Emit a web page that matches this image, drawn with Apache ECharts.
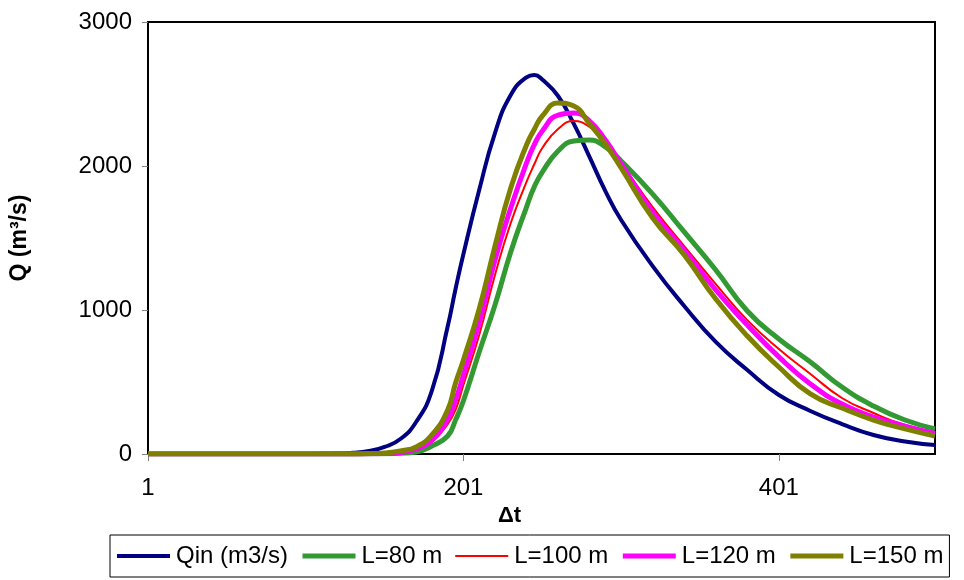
<!DOCTYPE html>
<html>
<head>
<meta charset="utf-8">
<script src="https://cdn.jsdelivr.net/npm/echarts@6/dist/echarts.min.js"></script>
<style>
  html, body { margin: 0; padding: 0; background: #fff; }
  #chart { width: 964px; height: 580px; }
</style>
</head>
<body>
<div id="chart"></div>
<script>
// time steps
var steps = [1, 101, 111, 121, 131, 141, 151, 161, 171, 181, 191, 196, 201, 211, 221, 231, 241, 246, 251, 261, 271, 281, 291, 301, 321, 341, 361, 381, 401, 421, 441, 461, 481, 500];
var qin  = [0, 0, 1, 3, 8, 21, 49, 104, 222, 440, 885, 1146, 1389, 1833, 2229, 2493, 2616, 2632, 2600, 2486, 2292, 2062, 1826, 1625, 1305, 1028, 778, 583, 410, 299, 208, 132, 87, 62];
var l80  = [0, 0, 0, 0, 0, 1, 2, 5, 14, 56, 125, 236, 370, 708, 1035, 1403, 1715, 1858, 1958, 2104, 2173, 2180, 2132, 2035, 1805, 1542, 1278, 993, 799, 639, 465, 333, 236, 174];
var l100 = [0, 0, 0, 0, 0, 1, 3, 7, 28, 83, 208, 306, 479, 826, 1243, 1604, 1889, 2014, 2125, 2257, 2312, 2271, 2167, 2021, 1715, 1444, 1180, 930, 729, 556, 389, 285, 201, 150];
var l120 = [0, 0, 0, 0, 0, 1, 4, 10, 35, 97, 243, 375, 549, 910, 1347, 1708, 2021, 2150, 2243, 2354, 2368, 2312, 2180, 2014, 1680, 1417, 1139, 896, 674, 486, 347, 257, 194, 142];
var l150 = [0, 0, 0, 0, 0, 2, 7, 21, 49, 132, 306, 493, 653, 1007, 1444, 1847, 2146, 2255, 2347, 2437, 2416, 2292, 2153, 1986, 1639, 1382, 1076, 819, 604, 417, 319, 236, 174, 125];
var xTicks = [1, 201, 401];

var names  = ['Qin (m3/s)', 'L=80 m', 'L=100 m', 'L=120 m', 'L=150 m'];
var colors = ['#000080', '#339933', '#FF0000', '#FF00FF', '#808000'];
var widths = [4, 5, 2, 5, 5];

function pairs(vals) {
    var out = [];
    for (var i = 0; i < steps.length; i++) {
        out.push([steps[i], vals[i]]);
    }
    return out;
}

var allVals = [qin, l80, l100, l120, l150];
var series = [];
var legendData = [];
for (var k = 0; k < names.length; k++) {
    series.push({
        name: names[k],
        type: 'line',
        data: pairs(allVals[k]),
        symbol: 'none',
        smooth: 0.5,
        lineStyle: { color: colors[k], width: widths[k] },
        itemStyle: { color: colors[k] }
    });
    legendData.push({
        name: names[k],
        lineStyle: { color: colors[k], width: widths[k] }
    });
}

var chart = echarts.init(document.getElementById('chart'));
var font = 'Liberation Sans, Arial, sans-serif';
var option = {
    animation: false,
    textStyle: { fontFamily: font },
    grid: {
        left: 148, right: 29, top: 22, bottom: 126,
        show: true, borderColor: '#000', borderWidth: 2
    },
    xAxis: {
        type: 'value',
        min: 1,
        max: 500,
        name: 'Δt',
        nameLocation: 'middle',
        nameGap: 50,
        nameTextStyle: { fontSize: 22, fontWeight: 'bold', color: '#000', padding: [0, 64, 0, 0] },
        axisLine: { lineStyle: { color: '#000', width: 2 } },
        axisTick: { show: true, length: 7, customValues: xTicks, lineStyle: { color: '#808080' } },
        axisLabel: { customValues: xTicks, fontSize: 24, color: '#000', margin: 22 },
        splitLine: { show: false }
    },
    yAxis: {
        type: 'value',
        min: 0,
        max: 3000,
        interval: 1000,
        name: 'Q (m³/s)',
        nameLocation: 'middle',
        nameGap: 117,
        nameTextStyle: { fontSize: 23, fontWeight: 'bold', color: '#000' },
        axisLine: { show: true, lineStyle: { color: '#000', width: 2 } },
        axisTick: { show: true, length: 6, lineStyle: { color: '#808080' } },
        axisLabel: { fontSize: 24, color: '#000', margin: 16, formatter: function (v) { return String(v); } },
        splitLine: { show: false }
    },
    legend: {
        left: 110,
        top: 535,
        width: 950,
        padding: [9, 6, 9, 5],
        itemWidth: 53,
        itemHeight: 10,
        itemGap: 12,
        borderColor: '#000',
        borderWidth: 1,
        borderRadius: 0,
        itemStyle: { opacity: 0 },
        textStyle: { fontSize: 24, color: '#000', padding: [0, 0, 0, 1] },
        data: legendData
    },
    series: series
};
chart.setOption(option);
</script>
</body>
</html>
